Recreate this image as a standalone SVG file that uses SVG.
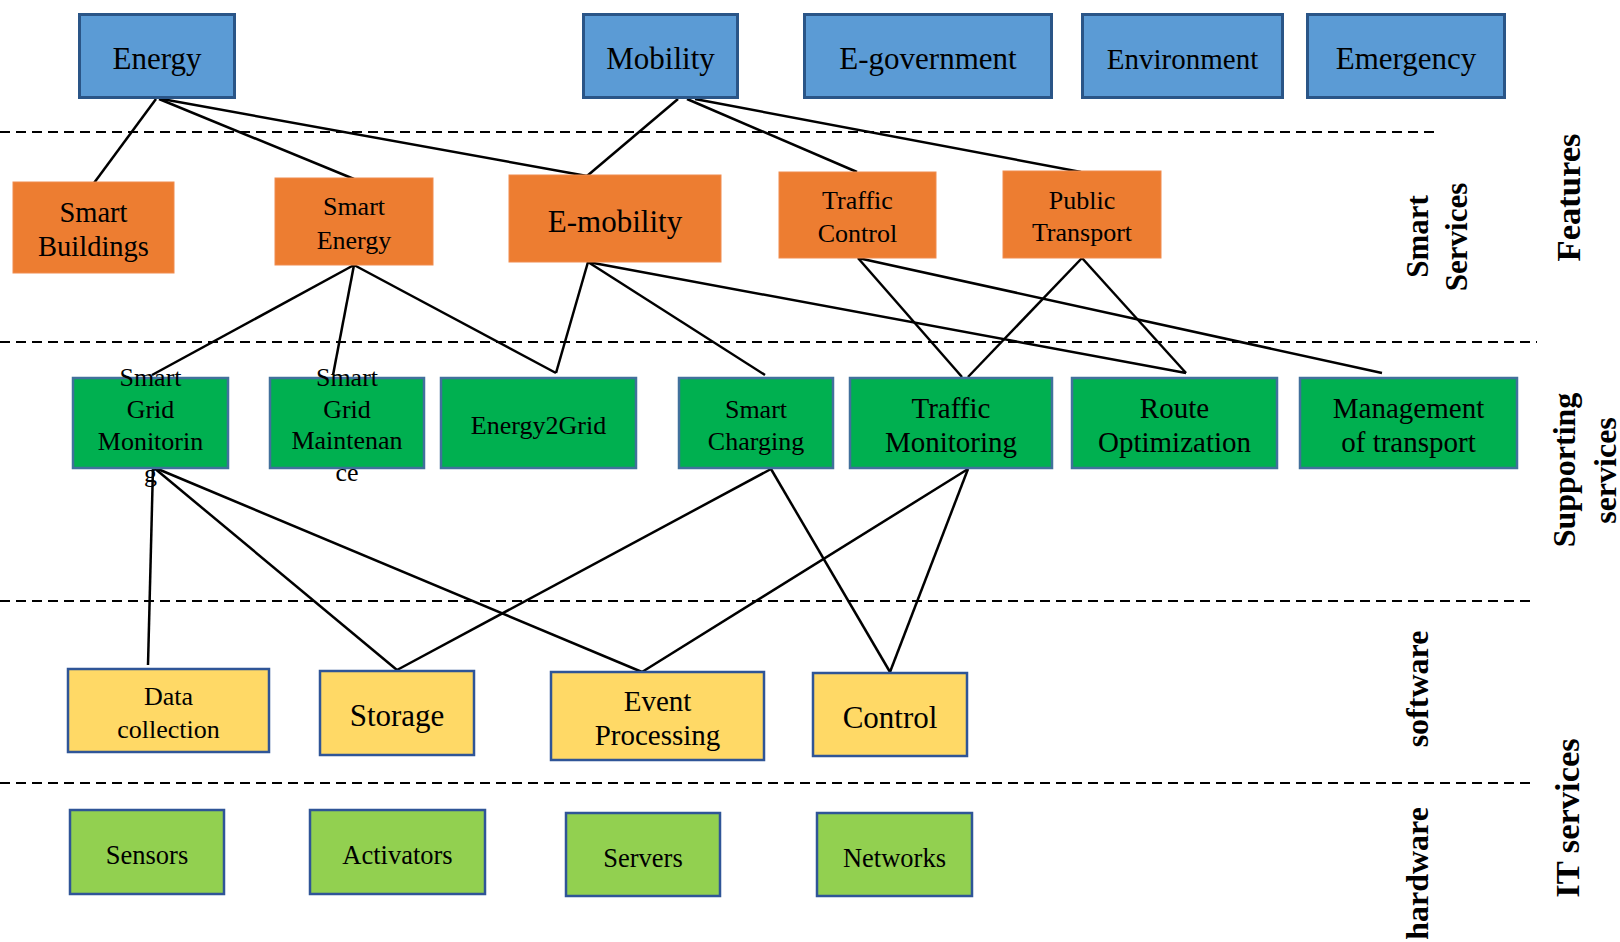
<svg xmlns="http://www.w3.org/2000/svg" width="1620" height="942" viewBox="0 0 1620 942">
<style>
text{font-family:"Liberation Serif","Times New Roman",serif;fill:#000;text-anchor:middle}
.lbl{font-weight:bold}
.blue{fill:#5B9BD5;stroke:#2A5587;stroke-width:3}
.orange{fill:#ED7D31;stroke:#F08C4E;stroke-width:1}
.green{fill:#00B050;stroke:#41719C;stroke-width:2.5}
.yellow{fill:#FFD966;stroke:#2F5597;stroke-width:2.5}
.lgreen{fill:#92D050;stroke:#2F5597;stroke-width:2.5}
.dash{stroke:#000;stroke-width:2;stroke-dasharray:10 6;fill:none}
#connectors line{stroke:#000;stroke-width:2.5}
</style>
<rect width="1620" height="942" fill="#fff"/>
<g id="separators">
<line class="dash" x1="0" y1="132" x2="1434" y2="132"/>
<line class="dash" x1="0" y1="342" x2="1537" y2="342"/>
<line class="dash" x1="0" y1="601" x2="1536" y2="601"/>
<line class="dash" x1="0" y1="783" x2="1536" y2="783"/>
</g>
<g id="connectors">
<line x1="156" y1="99" x2="94" y2="183"/>
<line x1="159" y1="99" x2="354" y2="179"/>
<line x1="162" y1="99" x2="587" y2="176"/>
<line x1="678" y1="99" x2="587" y2="176"/>
<line x1="687" y1="99" x2="857" y2="172"/>
<line x1="695" y1="99" x2="1081" y2="172"/>
<line x1="354" y1="265" x2="152" y2="375"/>
<line x1="354" y1="265" x2="333" y2="375"/>
<line x1="354" y1="265" x2="556" y2="373"/>
<line x1="588" y1="262" x2="556" y2="373"/>
<line x1="588" y1="262" x2="765" y2="375"/>
<line x1="588" y1="262" x2="1186" y2="373"/>
<line x1="858" y1="258" x2="962" y2="377"/>
<line x1="858" y1="258" x2="1382" y2="373"/>
<line x1="1082" y1="258" x2="968" y2="377"/>
<line x1="1082" y1="258" x2="1186" y2="373"/>
<line x1="153" y1="467" x2="148" y2="665"/>
<line x1="153" y1="467" x2="397" y2="670"/>
<line x1="153" y1="467" x2="642" y2="672"/>
<line x1="771" y1="469" x2="397" y2="670"/>
<line x1="771" y1="469" x2="890" y2="672"/>
<line x1="968" y1="469" x2="642" y2="672"/>
<line x1="968" y1="469" x2="890" y2="672"/>
</g>
<g id="energy"><rect class="blue" x="79.5" y="14.5" width="155" height="83"/><text x="157" y="69" font-size="31">Energy</text></g>
<g id="mobility"><rect class="blue" x="583.5" y="14.5" width="154" height="83"/><text x="660.5" y="69" font-size="31">Mobility</text></g>
<g id="egovernment"><rect class="blue" x="804.5" y="14.5" width="247" height="83"/><text x="928" y="69" font-size="31">E-government</text></g>
<g id="environment"><rect class="blue" x="1082.5" y="14.5" width="200" height="83"/><text x="1182.5" y="68.5" font-size="29">Environment</text></g>
<g id="emergency"><rect class="blue" x="1307.5" y="14.5" width="197" height="83"/><text x="1406" y="69" font-size="31">Emergency</text></g>

<g id="smart-buildings"><rect class="orange" x="13" y="182" width="161" height="91"/><text x="93.5" y="222" font-size="28.5">Smart</text><text x="93.5" y="256" font-size="28.5">Buildings</text></g>
<g id="smart-energy"><rect class="orange" x="275" y="178" width="158" height="87"/><text x="354" y="215" font-size="26">Smart</text><text x="354" y="249" font-size="26">Energy</text></g>
<g id="e-mobility"><rect class="orange" x="509" y="175" width="212" height="87"/><text x="615" y="231.5" font-size="31">E-mobility</text></g>
<g id="traffic-control"><rect class="orange" x="779" y="172" width="157" height="86"/><text x="857.5" y="209" font-size="26">Traffic</text><text x="857.5" y="242" font-size="26">Control</text></g>
<g id="public-transport"><rect class="orange" x="1003" y="171" width="158" height="87"/><text x="1082" y="209" font-size="26">Public</text><text x="1082" y="241" font-size="26">Transport</text></g>

<g id="sg-monitoring"><rect class="green" x="73" y="378" width="155" height="90"/><text x="150.5" y="386" font-size="26">Smart</text><text x="150.5" y="418" font-size="26">Grid</text><text x="150.5" y="450" font-size="26">Monitorin</text><text x="150.5" y="482" font-size="26">g</text></g>
<g id="sg-maintenance"><rect class="green" x="270" y="378" width="154" height="90"/><text x="347" y="386" font-size="26">Smart</text><text x="347" y="418" font-size="26">Grid</text><text x="347" y="449" font-size="26">Maintenan</text><text x="347" y="481" font-size="26">ce</text></g>
<g id="energy2grid"><rect class="green" x="441" y="378" width="195" height="90"/><text x="538.5" y="434" font-size="26">Energy2Grid</text></g>
<g id="smart-charging"><rect class="green" x="679" y="378" width="154" height="90"/><text x="756" y="418" font-size="26">Smart</text><text x="756" y="450" font-size="26">Charging</text></g>
<g id="traffic-monitoring"><rect class="green" x="850" y="378" width="202" height="90"/><text x="951" y="418" font-size="29">Traffic</text><text x="951" y="452" font-size="29">Monitoring</text></g>
<g id="route-optimization"><rect class="green" x="1072" y="378" width="205" height="90"/><text x="1174.5" y="418" font-size="29">Route</text><text x="1174.5" y="452" font-size="29">Optimization</text></g>
<g id="management-transport"><rect class="green" x="1300" y="378" width="217" height="90"/><text x="1408.5" y="418" font-size="29">Management</text><text x="1408.5" y="452" font-size="29">of transport</text></g>

<g id="data-collection"><rect class="yellow" x="68" y="669" width="201" height="83"/><text x="168.5" y="704.5" font-size="26">Data</text><text x="168.5" y="737.5" font-size="26">collection</text></g>
<g id="storage"><rect class="yellow" x="320" y="671" width="154" height="84"/><text x="397" y="725.5" font-size="31">Storage</text></g>
<g id="event-processing"><rect class="yellow" x="551" y="672" width="213" height="88"/><text x="657.5" y="710.5" font-size="29">Event</text><text x="657.5" y="744.5" font-size="29">Processing</text></g>
<g id="control"><rect class="yellow" x="813" y="673" width="154" height="83"/><text x="890" y="727.5" font-size="31">Control</text></g>

<g id="sensors"><rect class="lgreen" x="70" y="810" width="154" height="84"/><text x="147" y="863.5" font-size="26.5">Sensors</text></g>
<g id="activators"><rect class="lgreen" x="310" y="810" width="175" height="84"/><text x="397.5" y="863.5" font-size="26.5">Activators</text></g>
<g id="servers"><rect class="lgreen" x="566" y="813" width="154" height="83"/><text x="643" y="866.5" font-size="26.5">Servers</text></g>
<g id="networks"><rect class="lgreen" x="817" y="813" width="155" height="83"/><text x="894.5" y="866.5" font-size="26.5">Networks</text></g>

<g id="layer-labels">
<text class="lbl" font-size="31" transform="translate(1428,236.5) rotate(-90)">Smart</text>
<text class="lbl" font-size="31" transform="translate(1467,237) rotate(-90)">Services</text>
<text class="lbl" font-size="34.5" transform="translate(1580,197.5) rotate(-90)">Features</text>
<text class="lbl" font-size="32" transform="translate(1575,470) rotate(-90)">Supporting</text>
<text class="lbl" font-size="32" transform="translate(1616,470.5) rotate(-90)">services</text>
<text class="lbl" font-size="32" transform="translate(1428,689) rotate(-90)">software</text>
<text class="lbl" font-size="32" transform="translate(1428,873.5) rotate(-90)">hardware</text>
<text class="lbl" font-size="34.5" transform="translate(1579,818) rotate(-90)">IT services</text>
</g>
</svg>
